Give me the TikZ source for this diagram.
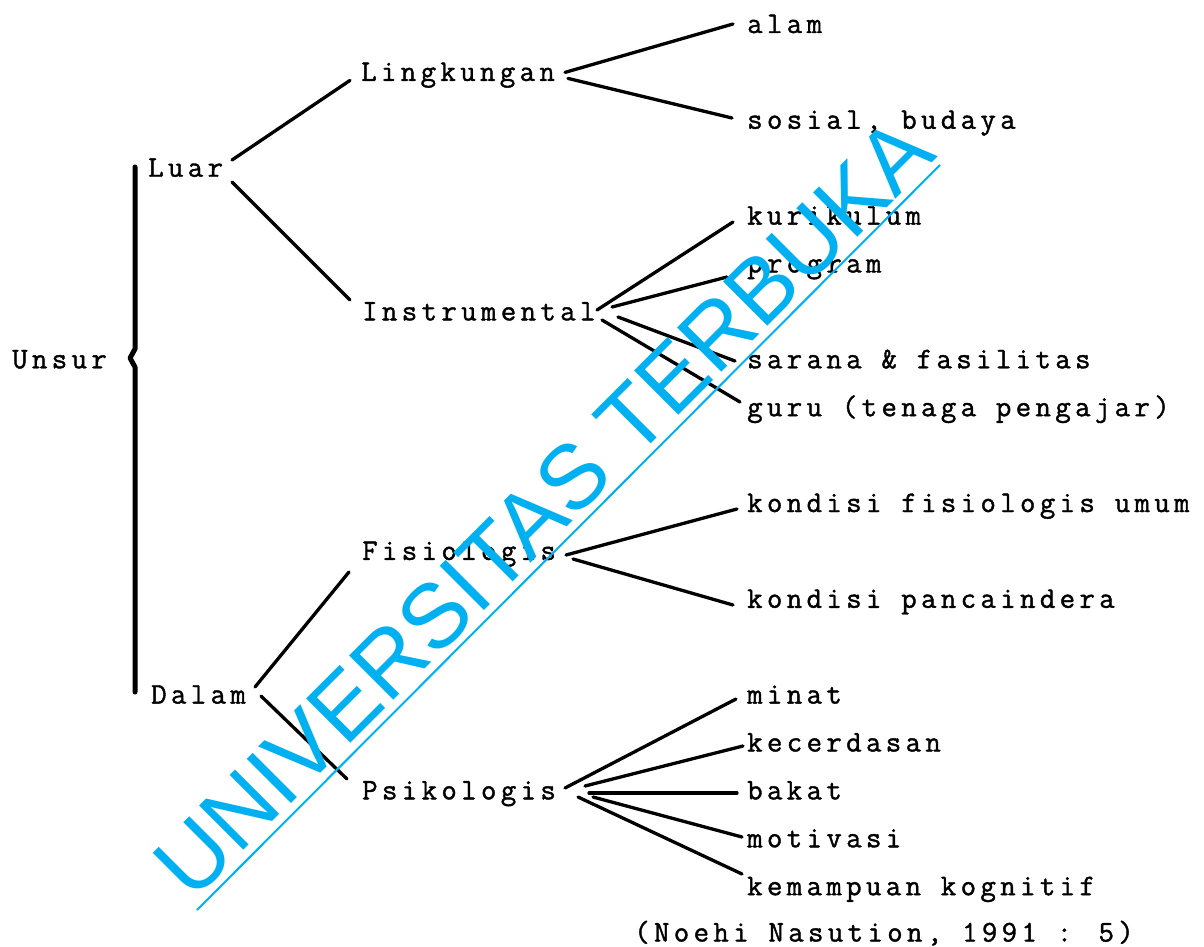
\documentclass[tikz,border=0pt]{standalone}
\usepackage{fontspec}
\usetikzlibrary{calc}
\newfontfamily\treefont[LetterSpace=14.5,FakeBold=1.3]{Latin Modern Mono}
\newfontfamily\wmfont{Liberation Sans}
\definecolor{wmcyan}{RGB}{0,176,240}
\tikzset{
  lbl/.style={anchor=west, inner sep=0pt, text height=20pt, text depth=6pt, font=\treefont\fontsize{30}{32}\selectfont},
  conn/.style={line width=3.3pt, line cap=round},
  brace/.style={line width=5pt, line cap=round, line join=round},
  wm/.style={inner sep=0pt, text=wmcyan, rotate=45, font=\wmfont\fontsize{91}{91}\selectfont},
}
\begin{document}
\begin{tikzpicture}[x=1pt,y=-1pt]
\useasboundingbox (0,0) rectangle (1204,947);
% labels (centre y = baseline - 7)
\node[lbl] (unsur) at (12,361.3) {Unsur};
\node[lbl] (luar) at (148,169.7) {Luar};
\node[lbl] (dalam) at (151,696.6) {Dalam};
\node[lbl] (ling) at (361,73.9) {Lingkungan};
\node[lbl] (instr) at (362,313.4) {Instrumental};
\node[lbl] (fisio) at (362,552.9) {Fisiologis};
\node[lbl] (psiko) at (362,792.4) {Psikologis};
\node[lbl] (alam) at (747,26) {alam};
\node[lbl] (sosial) at (747,121.8) {sosial, budaya};
\node[lbl] (kurik) at (747,217.6) {kurikulum};
\node[lbl] (prog) at (747,265.5) {program};
\node[lbl] (sarana) at (747,361.3) {sarana \& fasilitas};
\node[lbl] (guru) at (747,409.2) {guru (tenaga pengajar)};
\node[lbl] (kfu) at (747,505) {kondisi fisiologis umum};
\node[lbl] (kp) at (747,600.8) {kondisi pancaindera};
\node[lbl] (minat) at (747,696.6) {minat};
\node[lbl] (kecer) at (747,744.5) {kecerdasan};
\node[lbl] (bakat) at (747,792.4) {bakat};
\node[lbl] (motiv) at (747,840.3) {motivasi};
\node[lbl] (kemamp) at (747,888.2) {kemampuan kognitif};
\node[lbl] (cite) at (634,934.5) {(Noehi Nasution, 1991 : 5)};
% brace
\coordinate (btop) at (135,167);
\coordinate (bbot) at (135,692);
\draw[brace] (btop) -- (135,349) -- (130,358) -- (135,367) -- (bbot);
% connectors
\draw[conn] ([shift={(84,-9.7)}]luar.west) -- ([shift={(-11,6.5)}]ling.west);
\draw[conn] ([shift={(84,12.3)}]luar.west) -- ([shift={(-12,-13.4)}]instr.west);
\draw[conn] ([shift={(204,-1.5)}]ling.west) -- ([shift={(-14,-2)}]alam.west);
\draw[conn] ([shift={(207,4.5)}]ling.west) -- ([shift={(-15,-3.8)}]sosial.west);
\draw[conn] ([shift={(235,-3.4)}]instr.west) -- ([shift={(-14,4.4)}]kurik.west);
\draw[conn] ([shift={(250,-6.4)}]instr.west) -- ([shift={(-20,11.5)}]prog.west);
\draw[conn] ([shift={(256,3.6)}]instr.west) -- ([shift={(-12,-0.3)}]sarana.west);
\draw[conn] ([shift={(240,6.6)}]instr.west) -- ([shift={(-7,-7.2)}]guru.west);
\draw[conn] ([shift={(104,-9.6)}]dalam.west) -- ([shift={(-13,19.1)}]fisio.west);
\draw[conn] ([shift={(110,-0.6)}]dalam.west) -- ([shift={(-15,-13.4)}]psiko.west);
\draw[conn] ([shift={(204,2.1)}]fisio.west) -- ([shift={(-10,4)}]kfu.west);
\draw[conn] ([shift={(211,6.1)}]fisio.west) -- ([shift={(-14,4.2)}]kp.west);
\draw[conn] ([shift={(203,-4.4)}]psiko.west) -- ([shift={(-11,2.4)}]minat.west);
\draw[conn] ([shift={(223,-6.4)}]psiko.west) -- ([shift={(-4,1.5)}]kecer.west);
\draw[conn] ([shift={(227,0.6)}]psiko.west) -- ([shift={(-10,0.6)}]bakat.west);
\draw[conn] ([shift={(231,4.6)}]psiko.west) -- ([shift={(-5,-3.3)}]motiv.west);
\draw[conn] ([shift={(216,4.6)}]psiko.west) -- ([shift={(-5,-14.2)}]kemamp.west);
% watermark
\node[wm] (wmtext) at (543,507) {UNIVERSITAS TERBUKA};
\coordinate (ulA) at (197,910);
\coordinate (ulB) at (940,165);
\draw[wmcyan, line width=2pt] (ulA) -- (ulB);
\end{tikzpicture}
\end{document}
